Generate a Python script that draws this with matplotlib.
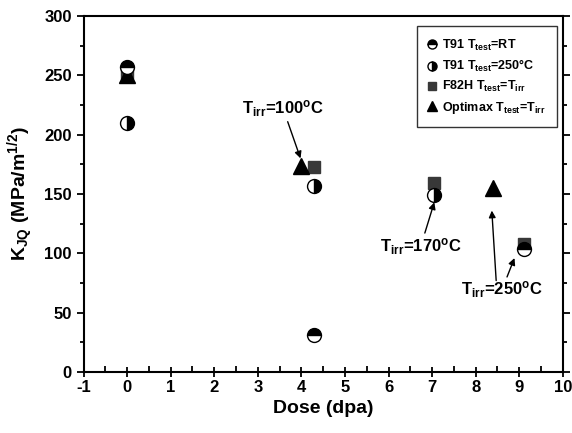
import matplotlib
matplotlib.use("Agg")
import matplotlib.pyplot as plt
from matplotlib.ticker import MultipleLocator

plt.rcParams['font.family'] = ['Liberation Sans', 'DejaVu Sans']
plt.rcParams['font.weight'] = 'bold'
plt.rcParams['mathtext.fontset'] = 'custom'
plt.rcParams['mathtext.rm'] = 'Liberation Sans:bold'
plt.rcParams['mathtext.it'] = 'Liberation Sans:bold'
plt.rcParams['mathtext.bf'] = 'Liberation Sans:bold'
plt.rcParams['mathtext.default'] = 'rm'

# data
t91_rt_dose = [0.0, 4.3, 9.1]
t91_rt_k = [257, 31, 104]
t91_250_dose = [0.0, 4.3, 7.05]
t91_250_k = [210, 157, 149]
f82h_dose = [0.0, 4.3, 7.05, 9.1]
f82h_k = [252, 173, 159, 108]
optimax_dose = [0.0, 4.0, 8.4]
optimax_k = [250, 174, 155]

x_ticks = [-1, 0, 1, 2, 3, 4, 5, 6, 7, 8, 9, 10]
y_ticks = [0, 50, 100, 150, 200, 250, 300]

fig = plt.figure(figsize=(5.72, 4.33), dpi=100)
ax = fig.add_axes([0.146, 0.141, 0.838, 0.822])

ax.plot(f82h_dose, f82h_k, 's', color='#383838', ms=9, ls='none',
        label='F82H T$_{test}$=T$_{irr}$', zorder=3)
ax.plot(optimax_dose, optimax_k, '^', color='black', ms=11, ls='none',
        label='Optimax T$_{test}$=T$_{irr}$', zorder=4)
ax.plot(t91_rt_dose, t91_rt_k, 'o', ms=10, ls='none', fillstyle='top',
        markerfacecolor='black', markerfacecoloralt='white',
        markeredgecolor='black', markeredgewidth=1,
        label='T91 T$_{test}$=RT', zorder=5)
ax.plot(t91_250_dose, t91_250_k, 'o', ms=10, ls='none', fillstyle='right',
        markerfacecolor='black', markerfacecoloralt='white',
        markeredgecolor='black', markeredgewidth=1,
        label='T91 T$_{test}$=250°C', zorder=5)

# annotations
arrow = dict(arrowstyle='-|>', color='black', lw=1, mutation_scale=10,
             shrinkA=0, shrinkB=0)
ax.annotate('T$_{irr}$=100$^{o}$C', xy=(3.98, 180), xytext=(3.58, 222),
            ha='center', va='center', fontsize=12, fontweight='bold',
            arrowprops=arrow)
ax.annotate('T$_{irr}$=170$^{o}$C', xy=(7.05, 143), xytext=(6.74, 106),
            ha='center', va='center', fontsize=12, fontweight='bold',
            arrowprops=arrow)
ax.annotate('', xy=(8.37, 136), xytext=(8.47, 77), arrowprops=arrow)
ax.annotate('T$_{irr}$=250$^{o}$C', xy=(8.89, 96), xytext=(8.6, 69),
            ha='center', va='center', fontsize=12, fontweight='bold',
            arrowprops=arrow)

ax.set_xlim(-1, 10)
ax.set_ylim(0, 300)
ax.set_xticks(x_ticks)
ax.set_xticklabels([str(v) for v in x_ticks], fontsize=12, fontweight='bold')
ax.set_yticks(y_ticks)
ax.set_yticklabels([str(v) for v in y_ticks], fontsize=12, fontweight='bold')
ax.xaxis.set_minor_locator(MultipleLocator(0.5))
ax.yaxis.set_minor_locator(MultipleLocator(25))

for s in ax.spines.values():
    s.set_linewidth(1.5)

ax.tick_params(axis='x', which='major', direction='inout', length=7, width=1.3,
               pad=2)
ax.tick_params(axis='x', which='minor', direction='in', length=4, width=1.3)
ax.tick_params(axis='y', which='major', direction='out', length=5, width=1.3)
ax.tick_params(axis='y', which='minor', direction='out', length=3, width=1.3)
ax.tick_params(axis='y', which='both', right=True)

ax.set_xlabel('Dose (dpa)', fontsize=14, fontweight='bold', labelpad=4)
ax.set_ylabel('K$_{JQ}$ (MPa/m$^{1/2}$)', fontsize=14, fontweight='bold',
              labelpad=6)

handles, labels = ax.get_legend_handles_labels()
order = [2, 3, 0, 1]
leg = ax.legend([handles[i] for i in order], [labels[i] for i in order],
                loc='upper right', bbox_to_anchor=(0.992, 0.978),
                fontsize=9, frameon=True, fancybox=False, edgecolor='black',
                markerscale=0.65, handlelength=0.7, handletextpad=0.4,
                borderpad=0.9, labelspacing=0.42, borderaxespad=0.2)
leg.get_frame().set_linewidth(1)
for t in leg.get_texts():
    t.set_fontweight('bold')

fig.savefig('out.png', dpi=100)
